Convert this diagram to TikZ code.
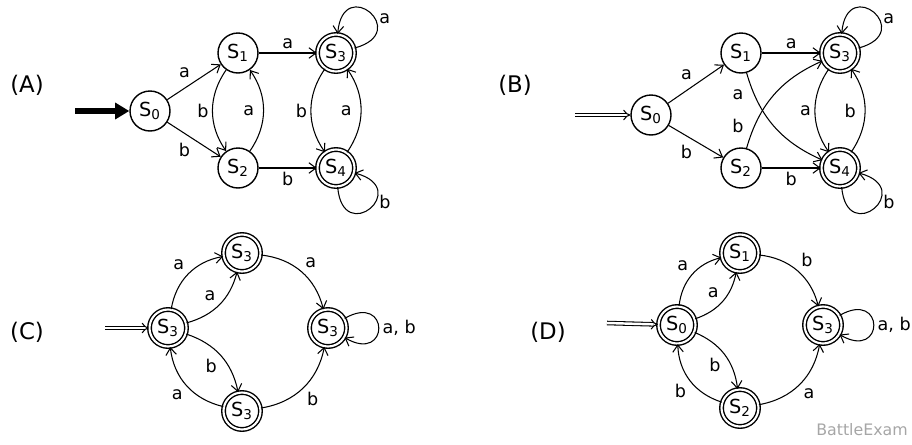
\documentclass[tikz,border=0pt]{standalone}
\usepackage{fontspec}
\setmainfont{DejaVu Sans}
\usetikzlibrary{arrows.meta}
\begin{document}
\begin{tikzpicture}[
		x=0.02cm, y=-0.02cm,
		thick,
		font=\fontsize{10}{12}\selectfont,
		>={Straight Barb[length=4pt,width=6pt]}
	]
	\tikzset{
		st/.style = {circle, draw=black, minimum size=0.8cm, inner sep=0pt, font=\fontsize{11}{12}\selectfont},
		acc/.style = {st, double, double distance=1.2pt, minimum size=0.74cm},
		tr/.style = {->, semithick},
		lbl/.style = {midway, inner sep=2pt},
		init/.style = {double, double distance=1.4pt, -{Implies}, semithick},
	}
	\useasboundingbox (0,0) rectangle (912,444);
	% (A)
	\node at (27,85) {\fontsize{13}{14}\selectfont (A)};
	\node[st] at (150,111) (a0) {S\textsubscript{0}};
	\node[st] at (238,53) (a1) {S\textsubscript{1}};
	\node[st] at (238,168) (a2) {S\textsubscript{2}};
	\node[acc] at (336,53) (a3) {S\textsubscript{3}};
	\node[acc] at (336,168) (a4) {S\textsubscript{4}};
	\coordinate (ai) at (75,111);
	\draw[line width=3pt, -{Triangle[length=8pt,width=9pt]}] (ai) -- (a0);
	\draw[tr] (a0) -- node[lbl, above left] {a} (a1);
	\draw[tr] (a0) -- node[lbl, below left] {b} (a2);
	\draw[tr] (a1) -- node[lbl, above] {a} (a3);
	\draw[tr] (a2) -- node[lbl, below] {b} (a4);
	\draw[tr] (a1) to[bend right=35] node[lbl, left] {b} (a2);
	\draw[tr] (a2) to[bend right=35] node[lbl, left=3pt] {a} (a1);
	\draw[tr] (a3) to[bend right=35] node[lbl, left] {b} (a4);
	\draw[tr] (a4) to[bend right=35] node[lbl, left=3pt] {a} (a3);
	\draw[tr] (a3) to[out=15, in=85, looseness=7] node[lbl, pos=0.4, right] {a} (a3);
	\draw[tr] (a4) to[out=-85, in=-15, looseness=7] node[lbl, pos=0.6, right] {b} (a4);
	% (B)
	\node at (515,85) {\fontsize{13}{14}\selectfont (B)};
	\node[st] at (651,115) (b0) {S\textsubscript{0}};
	\node[st] at (741,53) (b1) {S\textsubscript{1}};
	\node[st] at (741,168) (b2) {S\textsubscript{2}};
	\node[acc] at (840,53) (b3) {S\textsubscript{3}};
	\node[acc] at (840,168) (b4) {S\textsubscript{4}};
	\coordinate (bi) at (575,115);
	\draw[init] (bi) -- (b0);
	\draw[tr] (b0) -- node[lbl, above left] {a} (b1);
	\draw[tr] (b0) -- node[lbl, below left] {b} (b2);
	\draw[tr] (b1) -- node[lbl, above] {a} (b3);
	\draw[tr] (b2) -- node[lbl, below] {b} (b4);
	\draw[tr] (b1) to[bend right=25] (b4);
	\draw[tr] (b2) to[bend left=25] (b3);
	\node at (738,95) (bla) {a};
	\node at (738,126) (blb) {b};
	\draw[tr] (b3) to[bend right=35] node[lbl, left] {a} (b4);
	\draw[tr] (b4) to[bend right=35] node[lbl, left=3pt] {b} (b3);
	\draw[tr] (b3) to[out=15, in=85, looseness=7] node[lbl, pos=0.4, right] {a} (b3);
	\draw[tr] (b4) to[out=-85, in=-15, looseness=7] node[lbl, pos=0.6, right] {b} (b4);
	% (C)
	\node at (27,332) {\fontsize{13}{14}\selectfont (C)};
	\node[acc] at (168,328) (cl) {S\textsubscript{3}};
	\node[acc] at (242,253) (ct) {S\textsubscript{3}};
	\node[acc] at (242,411) (cb) {S\textsubscript{3}};
	\node[acc] at (328,328) (cr) {S\textsubscript{3}};
	\coordinate (ci) at (105,328);
	\draw[init] (ci) -- (cl);
	\draw[tr] (cl) to[bend left=35] node[lbl, above left] {a} (ct);
	\draw[tr] (cl) to[bend right=30] node[lbl, above left] {a} (ct);
	\draw[tr] (cl) to[bend left=30] node[lbl, below left] {b} (cb);
	\draw[tr] (cb) to[bend left=35] node[lbl, below left] {a} (cl);
	\draw[tr] (ct) to[bend left=35] node[lbl, above right] {a} (cr);
	\draw[tr] (cb) to[bend right=35] node[lbl, below right] {b} (cr);
	\draw[tr] (cr) to[out=30, in=-30, looseness=7] node[lbl, right] {a, b} (cr);
	% (D)
	\node at (548,332) {\fontsize{13}{14}\selectfont (D)};
	\node[acc] at (677,325) (d0) {S\textsubscript{0}};
	\node[acc] at (740,253) (d1) {S\textsubscript{1}};
	\node[acc] at (740,408) (d2) {S\textsubscript{2}};
	\node[acc] at (823,325) (d3) {S\textsubscript{3}};
	\coordinate (di) at (607,323);
	\draw[init] (di) -- (d0);
	\draw[tr] (d0) to[bend left=35] node[lbl, above left] {a} (d1);
	\draw[tr] (d0) to[bend right=30] node[lbl, above left] {a} (d1);
	\draw[tr] (d0) to[bend left=30] node[lbl, below left] {b} (d2);
	\draw[tr] (d2) to[bend left=35] node[lbl, below left] {b} (d0);
	\draw[tr] (d1) to[bend left=35] node[lbl, above right] {b} (d3);
	\draw[tr] (d2) to[bend right=35] node[lbl, below right] {a} (d3);
	\draw[tr] (d3) to[out=30, in=-30, looseness=7] node[lbl, right] {a, b} (d3);
	\node[text=gray!70, font=\fontsize{9}{10}\selectfont] at (862,430) (wm) {BattleExam};
\end{tikzpicture}
\end{document}
